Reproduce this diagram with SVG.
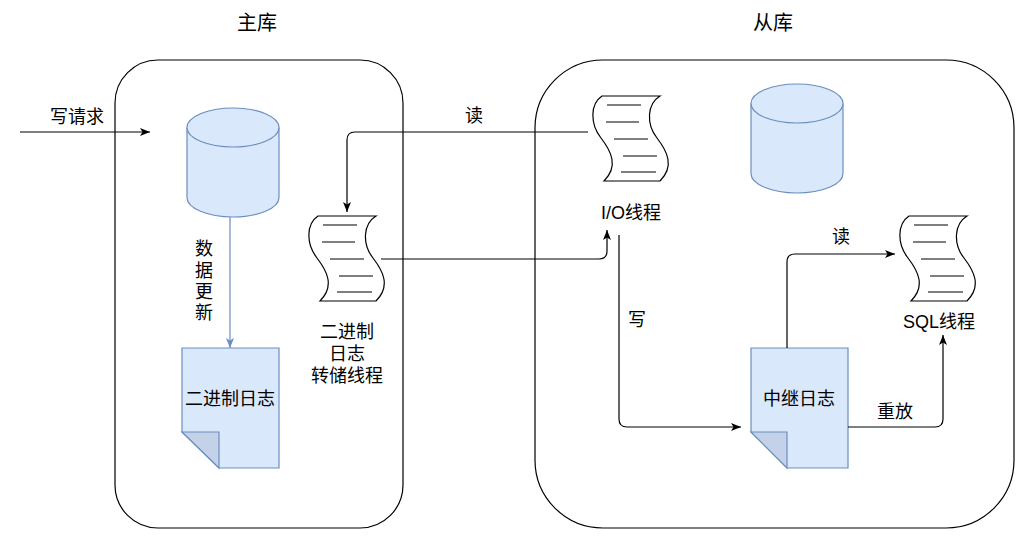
<svg xmlns="http://www.w3.org/2000/svg" xmlns:xlink="http://www.w3.org/1999/xlink" width="1026" height="540" viewBox="0 0 1026 540">
<style>
text{font-family:"Liberation Sans","Noto Sans CJK SC",sans-serif;font-size:18px;fill:#000;text-anchor:middle;dominant-baseline:central}
text.title{font-size:20px}
.container{fill:#fff;stroke:#000;stroke-width:1.2}
.blue{fill:#dae8fc;stroke:#6c8ebf;stroke-width:1.2}
.fold{fill:#c3d2e8;stroke:#6c8ebf;stroke-width:1.2}
.edge{fill:none;stroke:#000;stroke-width:1.2}
.edgeblue{fill:none;stroke:#6c8ebf;stroke-width:1.2}
.tape{fill:#fff;stroke:#000;stroke-width:1.2}
.tl{stroke:#000;stroke-width:1.2}
</style>
<defs>
<marker id="arr" viewBox="0 0 10 8" refX="10" refY="4" markerWidth="10" markerHeight="8" markerUnits="userSpaceOnUse" orient="auto">
<path d="M0,0 L10,4 L0,8 L2.5,4 Z" fill="#000"/>
</marker>
<marker id="arrb" viewBox="0 0 10 8" refX="10" refY="4" markerWidth="10" markerHeight="8" markerUnits="userSpaceOnUse" orient="auto">
<path d="M0,0 L10,4 L0,8 L2.5,4 Z" fill="#6c8ebf"/>
</marker>
<g id="tapeShape">
<path class="tape" d="M11,0 L69,0 C56,8 55,28 66,42 C76,55 84,70 69,85 L13,85 C28,70 20,55 10,42 C-1,28 -1,8 11,0 Z"/>
<line class="tl" x1="16" y1="9" x2="50" y2="9"/>
<line class="tl" x1="15" y1="26" x2="48" y2="26"/>
<line class="tl" x1="23" y1="43" x2="57" y2="43"/>
<line class="tl" x1="32" y1="60" x2="66" y2="60"/>
<line class="tl" x1="30" y1="76" x2="65" y2="76"/>
</g>
</defs>
<rect width="1026" height="540" fill="#fff"/>

<g id="master">
<rect class="container" x="115" y="60" width="288" height="468" rx="43" ry="43"/>
<text class="title" x="257" y="23">主库</text>
</g>
<g id="slave">
<rect class="container" x="535" y="60" width="479" height="468" rx="68" ry="68"/>
<text class="title" x="773" y="23">从库</text>
</g>

<g id="master-db">
<path class="blue" d="M187,127.5 A46,19.5 0 0,1 279,127.5 L279,197.5 A46,19.5 0 0,1 187,197.5 Z"/>
<path class="blue" fill="none" d="M187,127.5 A46,19.5 0 0,0 279,127.5"/>
</g>

<g id="binlog-doc">
<path class="blue" d="M182,348 L279,348 L279,468 L219,468 L182,432 Z"/>
<path class="fold" d="M182,432 L219,432 L219,468 Z"/>
<text x="230" y="399">二进制日志</text>
</g>

<g id="dump-thread">
<use xlink:href="#tapeShape" x="307" y="216"/>
<text x="347" y="332">二进制</text>
<text x="347" y="354">日志</text>
<text x="347" y="376">转储线程</text>
</g>

<g id="io-thread">
<use xlink:href="#tapeShape" x="591" y="96"/>
<text x="631" y="213">I/O线程</text>
</g>

<g id="slave-db">
<path class="blue" d="M751,103.5 A46,19.5 0 0,1 843,103.5 L843,173.5 A46,19.5 0 0,1 751,173.5 Z"/>
<path class="blue" fill="none" d="M751,103.5 A46,19.5 0 0,0 843,103.5"/>
</g>

<g id="sql-thread">
<use xlink:href="#tapeShape" x="898" y="216"/>
<text x="939" y="322">SQL线程</text>
</g>

<g id="relay-doc">
<path class="blue" d="M751,348 L848,348 L848,468 L787,468 L751,432 Z"/>
<path class="fold" d="M751,432 L787,432 L787,468 Z"/>
<text x="799" y="399">中继日志</text>
</g>

<g id="connectors">
<path class="edge" marker-end="url(#arr)" d="M20,132 L150,132"/>
<text x="77" y="117">写请求</text>
<path class="edgeblue" marker-end="url(#arrb)" d="M230,217 L230,348"/>
<text x="204" y="249">数</text>
<text x="204" y="271">据</text>
<text x="204" y="292">更</text>
<text x="204" y="313">新</text>
<path class="edge" marker-end="url(#arr)" d="M588,132 L355,132 Q347,132 347,140 L347,212"/>
<text x="474" y="116">读</text>
<path class="edge" marker-end="url(#arr)" d="M381,259 L599,259 Q607,259 607,251 L607,230"/>
<path class="edge" marker-end="url(#arr)" d="M619,235 L619,419 Q619,427 627,427 L741,427"/>
<text x="637" y="320">写</text>
<path class="edge" marker-end="url(#arr)" d="M787,348 L787,262 Q787,254 795,254 L895,254"/>
<text x="841" y="237">读</text>
<path class="edge" marker-end="url(#arr)" d="M848,427 L935,427 Q943,427 943,419 L943,335"/>
<text x="895" y="412">重放</text>
</g>
</svg>
